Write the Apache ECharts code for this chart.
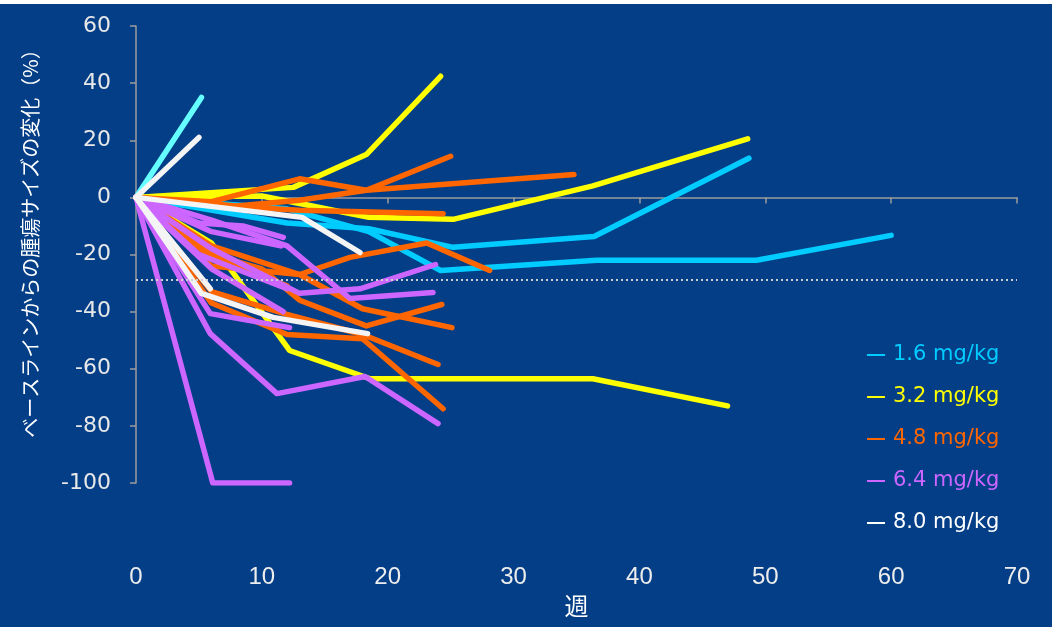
<!DOCTYPE html>
<html>
<head>
<meta charset="utf-8">
<script src="https://cdn.jsdelivr.net/npm/echarts@6/dist/echarts.min.js"></script>
<style>
  html, body { margin: 0; padding: 0; background: #ffffff; }
  #chart { width: 1052px; height: 627px; }
</style>
</head>
<body>
<div id="chart"></div>
<script>
// Tumour size change from baseline (%) per patient, as [week, change] pairs, by dose group.
const dose16 = [
  [[0, 0], [12, -9], [18.5, -11], [25.2, -17.5], [36.4, -13.7], [48.7, 13.7]],
  [[0, 0], [12, -4], [18.5, -12], [24.2, -25.6], [36.6, -22], [49.3, -22], [60, -13.3]]
];
const dose16Early = [
  [[0, 0], [5.2, 35]]
];
const dose32 = [
  [[0, 0], [12.5, 3.5], [18.3, 15], [24.2, 42.4]],
  [[0, 0], [10, 0.5], [14, -3], [18.5, -7], [25.2, -7.7], [36.3, 4], [48.6, 20.5]],
  [[0, 0], [6, -16], [12.2, -53.6], [18.6, -63.5], [36.3, -63.5], [47, -73]]
];
const dose48 = [
  [[0, 0], [6, -1.5], [13, 6.5], [18.3, 2.5], [34.8, 8]],
  [[0, 0], [8, -3], [13, -1], [18.3, 2.5], [25, 14.4]],
  [[0, 0], [7, -3], [13, -4.5], [24.4, -5.7]],
  [[0, 0], [6, -17], [13, -27], [17, -21], [23.1, -16], [28.1, -25.6]],
  [[0, 0], [6, -20], [10, -25], [13, -36], [18.3, -45], [24.3, -37.5]],
  [[0, 0], [6, -24], [13, -27], [18, -39], [25.1, -45.6]],
  [[0, 0], [6, -33], [12, -41], [18, -48], [24, -58.5]],
  [[0, 0], [6, -37], [12, -48], [18, -49.5], [24.4, -74]],
  [[0, 0], [6, -21], [12, -31]]
];
const dose64 = [
  [[0, 0], [6.1, -100], [12.2, -100]],
  [[0, 0], [5.9, -47.7], [11.2, -68.7], [18.2, -62.7], [24, -79.2]],
  [[0, 0], [6, -18], [13, -33.6], [17.8, -32], [23.8, -23.5]],
  [[0, 0], [6, -8], [12, -17], [17, -35.4], [23.6, -33.3]],
  [[0, 0], [5, -9], [8.5, -10], [11.7, -14]],
  [[0, 0], [5, -20], [12, -32]],
  [[0, 0], [6, -25], [11.7, -40]],
  [[0, 0], [5.9, -40.7], [12.2, -45.6]],
  [[0, 0], [6, -12], [11.5, -17]]
];
const dose80 = [
  [[0, 0], [5, 21]],
  [[0, 0], [13.2, -7], [17.8, -19.3]],
  [[0, 0], [5.9, -32]],
  [[0, 0], [5.2, -33.6], [10.9, -42], [18.4, -47.7]]
];
const responseLine = -29;

const yTicks = { min: -100, max: 60, interval: 20 };
const xTicks = { min: 0, max: 70, interval: 10 };

const groups = [
  { name: '1.6 mg/kg', color: '#00CCFF', lines: dose16 },
  { name: '1.6 mg/kg', color: '#66FFFF', lines: dose16Early },
  { name: '3.2 mg/kg', color: '#FFFF00', lines: dose32 },
  { name: '4.8 mg/kg', color: '#FF6600', lines: dose48 },
  { name: '6.4 mg/kg', color: '#CC66FF', lines: dose64 },
  { name: '8.0 mg/kg', color: '#F4F4F4', lines: dose80 }
];
const legendItems = [
  { name: '1.6 mg/kg', color: '#00CCFF' },
  { name: '3.2 mg/kg', color: '#FFFF00' },
  { name: '4.8 mg/kg', color: '#FF6600' },
  { name: '6.4 mg/kg', color: '#CC66FF' },
  { name: '8.0 mg/kg', color: '#FFFFFF' }
];

const series = [];
groups.forEach(g => {
  g.lines.forEach(pts => {
    series.push({
      type: 'line',
      name: g.name,
      xAxisIndex: 0,
      data: pts,
      showSymbol: false,
      symbol: 'none',
      silent: true,
      itemStyle: { color: g.color },
      lineStyle: { color: g.color, width: 5.5, cap: 'round', join: 'round' },
      emphasis: { disabled: true }
    });
  });
});
series[0].markLine = {
  silent: true,
  symbol: 'none',
  label: { show: false },
  lineStyle: { color: '#CFCFCF', width: 2, type: [2, 3] },
  data: [{ yAxis: responseLine }]
};

const axisGray = '#9C9C9C';
const chart = echarts.init(document.getElementById('chart'));
chart.setOption({
  animation: false,
  backgroundColor: '#033E87',
  graphic: [
    { type: 'rect', shape: { x: 0, y: 0, width: 1052, height: 4 }, style: { fill: '#ffffff' }, silent: true }
  ],
  grid: { left: 136, right: 35, top: 26, bottom: 144, containLabel: false },
  legend: {
    orient: 'vertical',
    left: 862,
    top: 339,
    itemWidth: 18,
    itemHeight: 2,
    itemGap: 20,
    icon: 'rect',
    selectedMode: false,
    textStyle: { fontFamily: 'DejaVu Sans', fontSize: 21, lineHeight: 22, padding: [0, 0, 0, 3] },
    data: legendItems.map(it => ({
      name: it.name,
      icon: 'rect',
      itemStyle: { color: it.color },
      textStyle: { color: it.color }
    }))
  },
  xAxis: [
    {
      type: 'value',
      min: xTicks.min, max: xTicks.max, interval: xTicks.interval,
      axisLine: { show: true, onZero: true, lineStyle: { color: axisGray, width: 1.5 } },
      axisTick: { show: true, length: 6, lineStyle: { color: axisGray, width: 1.5 } },
      axisLabel: { show: false },
      splitLine: { show: false }
    },
    {
      type: 'value',
      position: 'bottom',
      min: xTicks.min, max: xTicks.max, interval: xTicks.interval,
      axisLine: { show: false, onZero: false },
      axisTick: { show: false },
      axisLabel: { show: true, margin: 82, color: '#EDEDED', fontSize: 24, fontFamily: 'Liberation Sans Narrow, Liberation Sans, sans-serif' },
      splitLine: { show: false },
      name: '週',
      nameLocation: 'middle',
      nameGap: 108,
      nameTextStyle: { color: '#FFFFFF', fontSize: 24, fontFamily: 'Noto Sans CJK JP' }
    }
  ],
  yAxis: {
    type: 'value',
    min: yTicks.min, max: yTicks.max, interval: yTicks.interval,
    axisLine: { show: true, lineStyle: { color: axisGray, width: 1.5 } },
    axisTick: { show: true, length: 6, lineStyle: { color: axisGray, width: 1.5 } },
    axisLabel: { margin: 25, color: '#E8E8E8', fontSize: 22, fontFamily: 'DejaVu Sans' },
    splitLine: { show: false },
    name: 'ベースラインからの腫瘍サイズの変化（%）',
    nameLocation: 'middle',
    nameGap: 96,
    nameTextStyle: { color: '#FFFFFF', fontSize: 20, fontFamily: 'Noto Sans CJK JP', padding: [0, 0, 0, 32] }
  },
  series: series
});
</script>
</body>
</html>
